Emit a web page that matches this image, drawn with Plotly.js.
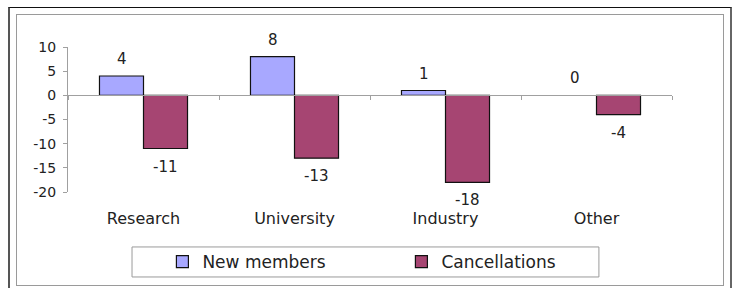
<!DOCTYPE html>
<html>
<head>
<meta charset="utf-8">
<script src="https://cdn.plot.ly/plotly-3.0.1.min.js"></script>
<style>
  html, body { margin: 0; padding: 0; background: #fff; }
  #wrap { position: relative; width: 734px; height: 288px; overflow: hidden; }
  #chart { position: absolute; left: 0; top: 0; width: 734px; height: 288px; }
  #outer { position: absolute; left: 8px; top: 7px; width: 720px; height: 300px;
           border-top: 1px solid #111; border-left: 2px solid #555; border-right: 2px solid #666; pointer-events: none; }
  #inner { position: absolute; left: 16px; top: 14px; width: 706px; height: 270px;
           border: 1px solid #9a9a9a; pointer-events: none; }
</style>
</head>
<body>
<div id="wrap">
  <div id="chart"></div>
  <div id="outer"></div>
  <div id="inner"></div>
</div>
<script>
const categories = ["Research", "University", "Industry", "Other"];
const newMembers = [4, 8, 1, 0];
const cancellations = [-11, -13, -18, -4];
const seriesNames = ["New members", "Cancellations"];
const yTicks = [10, 5, 0, -5, -10, -15, -20];

const FONT = "DejaVu Sans, Verdana, sans-serif";
const TXT = "#222";
const outline = vals => vals.map(v => (v === 0 ? 0 : 1.2));

const traces = [
  {
    type: "bar", name: seriesNames[0], x: categories, y: newMembers,
    marker: { color: "#a8a8ff", line: { color: "#111", width: outline(newMembers) } },
    hoverinfo: "skip"
  },
  {
    type: "bar", name: seriesNames[1], x: categories, y: cancellations,
    marker: { color: "#a64572", line: { color: "#111", width: outline(cancellations) } },
    hoverinfo: "skip"
  },
  {
    type: "scatter", mode: "markers", x: categories, y: categories.map(() => null),
    xaxis: "x2", showlegend: false, hoverinfo: "skip"
  }
];

const annotations = [];
newMembers.forEach((v, i) => annotations.push({
  x: i, y: v, xref: "x", yref: "y", text: String(v), showarrow: false,
  xshift: -22, yshift: 17, font: { family: FONT, size: 15, color: TXT }
}));
cancellations.forEach((v, i) => annotations.push({
  x: i, y: v, xref: "x", yref: "y", text: String(v), showarrow: false,
  xshift: 22, yshift: -18, font: { family: FONT, size: 15, color: TXT }
}));

const layout = {
  width: 734, height: 288,
  margin: { l: 68, r: 62, t: 47, b: 96, autoexpand: false },
  paper_bgcolor: "rgba(0,0,0,0)", plot_bgcolor: "rgba(0,0,0,0)",
  font: { family: FONT, color: TXT },
  barmode: "group", bargap: 0.417, bargroupgap: 0,
  showlegend: true,
  legend: {
    orientation: "h", x: 0.552, xanchor: "center", y: -0.483, yanchor: "middle",
    font: { family: FONT, size: 17, color: TXT }, bgcolor: "rgba(0,0,0,0)",
    entrywidth: 194, traceorder: "normal"
  },
  xaxis: {
    type: "category", range: [-0.5, 3.5], showline: false, showgrid: false, zeroline: false,
    ticks: "", tickfont: { family: FONT, size: 16, color: TXT }, ticklabelstandoff: 15,
    fixedrange: true, automargin: false
  },
  xaxis2: {
    type: "category", overlaying: "x", anchor: "free", position: 20 / 30, side: "bottom",
    range: [-0.5, 3.5], showline: true, linecolor: "#a0a0a0", linewidth: 1,
    ticks: "outside", tickson: "boundaries", ticklen: 4, tickcolor: "#a0a0a0",
    showticklabels: false, showgrid: false, zeroline: false
  },
  yaxis: {
    range: [-20, 10], tickvals: yTicks, ticktext: yTicks.map(String),
    showline: true, linecolor: "#a0a0a0", linewidth: 1, ticks: "outside", ticklen: 4,
    tickcolor: "#a0a0a0", showgrid: false, zeroline: false, automargin: false,
    tickfont: { family: FONT, size: 14, color: TXT }, ticklabelstandoff: 4
  },
  shapes: [{
    type: "rect", xref: "paper", yref: "paper",
    x0: 0.106, x1: 0.879, y0: -0.379, y1: -0.586,
    line: { color: "#9a9a9a", width: 1 }, fillcolor: "rgba(0,0,0,0)", layer: "below"
  }],
  annotations: annotations
};

Plotly.newPlot("chart", traces, layout, { staticPlot: true, displayModeBar: false });
</script>
</body>
</html>
